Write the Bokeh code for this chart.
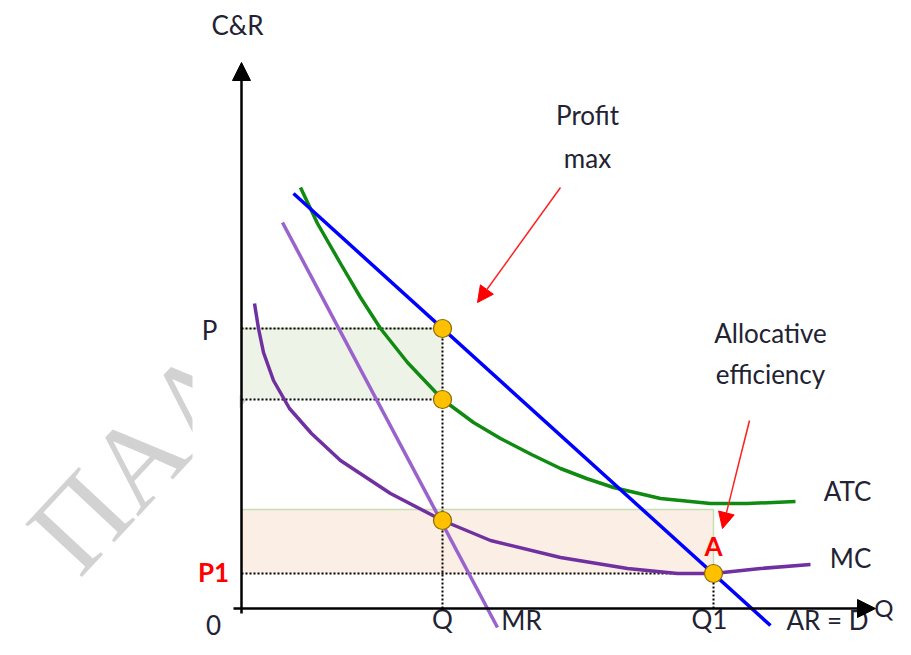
from bokeh.plotting import figure
from bokeh.models import Arrow, NormalHead, Range1d
from bokeh.core.properties import value
from bokeh.embed import file_html
from bokeh.resources import INLINE

# ---- key levels (chart units: origin at the axes' crossing) ----
Q_X = 201
Q1_X = 472
P_Y = 280
ATC_AT_Q = 209
MC_AT_Q = 88
P1_Y = 35
ATC_MIN = 99

# ---- curves ----
atc_x = [59, 76, 99, 119, 139, 166, 201, 232, 259, 290, 319, 345, 372, 419, 469, 506, 554]
atc_y = [421, 385, 345, 311, 280, 246, 209, 186, 170, 154, 140, 130, 121, 110, 105, 105, 107]

mc_x = [13, 17, 22, 32, 48, 70, 99, 149, 201, 249, 319, 386, 436, 472, 519, 569]
mc_y = [305, 280, 256, 228, 200, 175, 148, 115, 88, 68, 51, 40, 35, 35, 40, 44]

ar_x = [52, 529]
ar_y = [415, -17]

mr_x = [41, 256]
mr_y = [386, -19]

# ---- equilibrium points ----
pts_x = [Q_X, Q_X, Q_X, Q1_X]
pts_y = [P_Y, ATC_AT_Q, MC_AT_Q, P1_Y]

FONT = value("Lato")
DARK = "#222233"

p = figure(width=895, height=639, x_range=Range1d(-241, 654), y_range=Range1d(-31, 608),
           output_backend="svg", toolbar_location=None, min_border=0)
p.axis.visible = False
p.grid.visible = False
p.outline_line_color = None
p.background_fill_color = "white"

# watermark
p.text(x=[-191], y=[56], text=["ΠΑΛ"], angle=0.82, text_font=value("Liberation Serif"),
       text_font_size="118px", text_color="#d2d2d2", text_align="left", text_baseline="alphabetic")
p.quad(left=[-49], right=[-2], bottom=[-31], top=[608], fill_color="white", line_color=None)

# shaded areas
p.quad(left=[0], right=[Q_X], bottom=[ATC_AT_Q], top=[P_Y], fill_color="#EEF3E8", line_color=None)
p.quad(left=[0], right=[Q1_X], bottom=[P1_Y], top=[ATC_MIN], fill_color="#FBEEE5", line_color=None)
p.line(x=[0, Q_X], y=[P_Y, P_Y], line_color="#C8DDB5", line_width=1.5)
p.line(x=[0, Q1_X, Q1_X], y=[ATC_MIN, ATC_MIN, P1_Y], line_color="#C8DDB5", line_width=1.5)

# dotted guides
dots = dict(line_color="black", line_width=2, line_dash="2 2")
p.line(x=[0, Q_X], y=[P_Y, P_Y], **dots)
p.line(x=[0, Q_X], y=[ATC_AT_Q, ATC_AT_Q], **dots)
p.line(x=[0, Q1_X], y=[P1_Y, P1_Y], **dots)
p.line(x=[Q_X, Q_X], y=[0, P_Y], **dots)
p.line(x=[Q1_X, Q1_X], y=[0, P1_Y], **dots)

# curves
p.line(x=mr_x, y=mr_y, line_color="#9A62CC", line_width=3.5)
p.line(x=mc_x, y=mc_y, line_color="#7030A0", line_width=3.5, line_join="round")
p.line(x=atc_x, y=atc_y, line_color="#108A10", line_width=3.5, line_join="round")
p.line(x=ar_x, y=ar_y, line_color="#0000FF", line_width=3.5)

# axes with arrow heads
p.add_layout(Arrow(x_start=0, y_start=-5, x_end=0, y_end=546, line_width=2.5, line_color="black",
                   end=NormalHead(size=18, fill_color="black", line_color="black")))
p.add_layout(Arrow(x_start=-8, y_start=0, x_end=634, y_end=0, line_width=2.5, line_color="black",
                   end=NormalHead(size=18, fill_color="black", line_color="black")))

# red pointer arrows
p.add_layout(Arrow(x_start=319, y_start=421, x_end=236, y_end=306, line_width=1.5, line_color="#FF2020",
                   end=NormalHead(size=16, fill_color="#FF0000", line_color="#FF0000")))
p.add_layout(Arrow(x_start=508, y_start=188, x_end=481, y_end=80, line_width=1.5, line_color="#FF2020",
                   end=NormalHead(size=16, fill_color="#FF0000", line_color="#FF0000")))

# points
p.scatter(x=pts_x, y=pts_y, size=18, fill_color="#FFC000", line_color="#8A6A00", line_width=1.2)

# labels
def lab(x, y, t, align="center", color=DARK, bold=False, baseline="middle", size="26px"):
    p.text(x=[x], y=[y], text=[t], text_font=FONT, text_font_size=size, text_color=color,
           text_align=align, text_baseline=baseline, text_font_style="bold" if bold else "normal")

lab(-4, 584, "C&R")
lab(346, 494, "Profit")
lab(346, 451, "max")
lab(529, 276, "Allocative")
lab(529, 235, "efficiency")
lab(-32, 279, "P")
lab(-28, 37, "P1", color="#FF0000", bold=True)
lab(Q1_X, 63, "A", color="#FF0000", bold=True)
lab(606, 118, "ATC")
lab(609, 51, "MC")
lab(652, 1, "Q", align="right", size="24px")
lab(-28, -26, "0", baseline="bottom")
lab(Q_X, -26, "Q", baseline="bottom")
lab(468, -26, "Q1", baseline="bottom")
lab(280, -27, "MR", baseline="bottom")
lab(586, -27, "AR = D", baseline="bottom")

open("out.html", "w").write(file_html(p, INLINE))
